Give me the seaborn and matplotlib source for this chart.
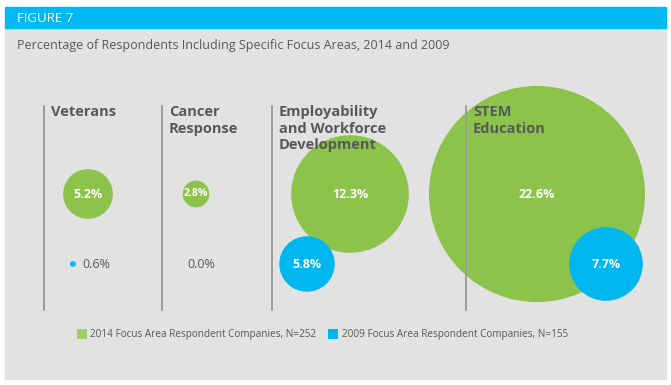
import matplotlib
matplotlib.use("Agg")
import matplotlib.pyplot as plt
from matplotlib.patches import Rectangle
from matplotlib.lines import Line2D
import seaborn as sns
import pandas as pd

# ---- data ----
categories = ["Veterans", "Cancer\nResponse",
              "Employability\nand Workforce\nDevelopment", "STEM\nEducation"]
values_2014 = [5.2, 2.8, 12.3, 22.6]
values_2009 = [0.6, 0.0, 5.8, 7.7]
series_labels = ["2014 Focus Area Respondent Companies, N=252",
                 "2009 Focus Area Respondent Companies, N=155"]
figure_tag = "FIGURE 7"
title = "Percentage of Respondents Including Specific Focus Areas, 2014 and 2009"

# ---- layout (pixel space) ----
W, H = 671, 385
col_line_x = [44, 162, 272, 466]
green_x = [88, 196, 350, 537]
blue_x = [73, 178, 307, 606]
green_y, blue_y = 194, 264
px_per_unit = 4.78  # radius in px per percentage point

GREEN = "#8BC34B"
BLUE = "#00B6EF"
BG = "#E1E2E1"
HEADER = "#00B9F0"
TEXT = "#58585B"
LINE = "#9C9C9C"
FONT = "Open Sans"

sns.set_theme(style="white")
plt.rcParams["font.family"] = [FONT, "DejaVu Sans"]

fig = plt.figure(figsize=(W / 100, H / 100), dpi=100)
fig.patch.set_facecolor("white")
ax = fig.add_axes([0, 0, 1, 1])

# panel
ax.add_patch(Rectangle((5, 28), 661, 351, color=BG, zorder=0))
ax.add_patch(Rectangle((5, 7), 661, 21, color=HEADER, zorder=0))
ax.text(17, 18, figure_tag, color="white", fontsize=9.5, va="center",
        ha="left", zorder=5)
ax.text(17, 46, title, color=TEXT, fontsize=9.0, va="center", ha="left",
        zorder=5)

def s_of(v):
    d_pt = 2 * px_per_unit * v * 72 / 100
    return d_pt ** 2

df14 = pd.DataFrame({"x": green_x, "y": [green_y] * 4, "v": values_2014})
df09 = pd.DataFrame({"x": blue_x, "y": [blue_y] * 4, "v": values_2009})

sns.scatterplot(data=df14, x="x", y="y", s=[s_of(v) for v in values_2014],
                color=GREEN, linewidth=0, ax=ax, zorder=2, legend=False)
sns.scatterplot(data=df09, x="x", y="y", s=[s_of(v) for v in values_2009],
                color=BLUE, linewidth=0, ax=ax, zorder=4, legend=False)
ax.set_xlim(0, W)
ax.set_ylim(H, 0)
ax.axis("off")

# divider lines
for x in col_line_x:
    ax.plot([x, x], [106, 310], color=LINE, lw=1.4, zorder=3)

# category titles
for x, cat in zip(col_line_x, categories):
    ax.text(x + 7, 105, cat, color=TEXT, fontsize=10.5, fontweight="bold",
            va="top", ha="left", linespacing=1.25, zorder=5)

# value labels
for x, v in zip(green_x, values_2014):
    fs = 9 if v >= 4 else 7.5
    ax.text(x, green_y, f"{v:.1f}%", color="white", fontsize=fs,
            fontweight="bold", ha="center", va="center", zorder=6)
for x, v in zip(blue_x, values_2009):
    if v >= 4:
        ax.text(x, blue_y, f"{v:.1f}%", color="white", fontsize=9,
                fontweight="bold", ha="center", va="center", zorder=6)
    else:
        ax.text(x + 9, blue_y, f"{v:.1f}%", color=TEXT, fontsize=9,
                ha="left", va="center", zorder=6)

# legend
handles = [Line2D([], [], marker="s", ls="none", markersize=7.5,
                  markerfacecolor=c, markeredgewidth=0)
           for c in ["#9DCF6B", BLUE]]
leg = ax.legend(handles, series_labels, ncol=2, frameon=False,
                loc="center left", bbox_to_anchor=(73 / W, 1 - 335 / H),
                fontsize=7.2, handlelength=0.9, handletextpad=0.45,
                columnspacing=1.2, labelcolor=TEXT, borderaxespad=0)

fig.savefig("out.png", dpi=100)
